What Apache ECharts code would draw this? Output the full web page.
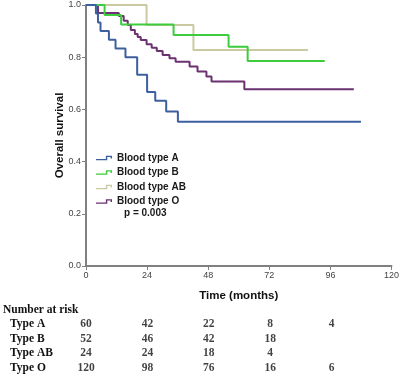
<!DOCTYPE html>
<html>
<head>
<meta charset="utf-8">
<script src="https://cdn.jsdelivr.net/npm/echarts@6/dist/echarts.min.js"></script>
<style>
html, body { margin: 0; padding: 0; background: #fff; }
#chart { width: 402px; height: 378px; }
</style>
</head>
<body>
<div id="chart"></div>
<script>
// survival curves (months, survival)
const timeA = [0, 3.9, 4.7, 5.7, 9, 11.6, 15.5, 20.1, 24, 27.2, 31.5, 36.1, 108]
const survA = [1, 0.967, 0.933, 0.9, 0.867, 0.833, 0.8, 0.733, 0.667, 0.633, 0.592, 0.553, 0.553]
const timeB = [0, 7.3, 13.8, 34.4, 56, 63.5, 93.8]
const survB = [1, 0.962, 0.925, 0.885, 0.84, 0.785, 0.785]
const timeAB = [0, 23.8, 42.2, 87.2]
const survAB = [1, 0.923, 0.828, 0.828]
const timeO = [0, 4.7, 12.9, 14.8, 16.4, 17.6, 19.2, 20.3, 21.5, 23.8, 25.8, 27.8, 30.1, 32.8, 35.2, 40.7, 43.8, 47.3, 49.3, 62.2, 105.2]
const survO = [1, 0.969, 0.958, 0.94, 0.923, 0.904, 0.889, 0.877, 0.866, 0.85, 0.836, 0.824, 0.808, 0.796, 0.783, 0.764, 0.745, 0.726, 0.707, 0.677, 0.677]

const groupNames = ['Blood type A', 'Blood type B', 'Blood type AB', 'Blood type O']
const groupColors = ['#3d5f9f', '#3ccc3c', '#cbc9a2', '#6b3170']

// number at risk table
const riskTimes = [0, 24, 48, 72, 96]
const rowLabels = ['Type A', 'Type B', 'Type AB', 'Type O']
const riskA = [60, 42, 22, 8, 4]
const riskB = [52, 46, 42, 18]
const riskAB = [24, 24, 18, 4]
const riskO = [120, 98, 76, 16, 6]

const curves = [[timeA, survA], [timeB, survB], [timeAB, survAB], [timeO, survO]]
const riskRows = [riskA, riskB, riskAB, riskO]

const stepIcon = 'path://M0,7 L21,7 L21,0 L34,0 L34,6 L31,6 L31,3 L24,3 L24,10 L0,10 Z'

const riskData = []
riskRows.forEach((row, i) => {
  row.forEach((v, j) => {
    riskData.push([riskTimes[j], rowLabels[i], v])
  })
})

const lineSeries = curves.map((c, i) => ({
  name: groupNames[i],
  type: 'line',
  step: 'end',
  symbol: 'none',
  color: groupColors[i],
  lineStyle: { width: 2, color: groupColors[i] },
  data: c[0].map((t, k) => [t, c[1][k]]),
  z: 10 - i
}))

const chart = echarts.init(document.getElementById('chart'))
chart.setOption({
  animation: false,
  backgroundColor: '#fff',
  textStyle: { fontFamily: 'Arial, "Liberation Sans", sans-serif' },
  grid: [
    { left: 86, right: 9, top: 5, bottom: 112 },
    { left: 86, right: 9, top: 317, height: 58 }
  ],
  legend: {
    data: groupNames.map(n => ({ name: n, icon: stepIcon })),
    orient: 'vertical',
    left: 91,
    top: 146,
    itemWidth: 16,
    itemHeight: 5,
    itemGap: 0.5,
    selectedMode: false,
    textStyle: { fontSize: 10, fontWeight: 'bold', color: '#1a1a1a', lineHeight: 14 }
  },
  xAxis: [{
    type: 'value',
    min: 0,
    max: 120,
    interval: 24,
    name: 'Time (months)',
    nameLocation: 'middle',
    nameGap: 24,
    nameMoveOverlap: false,
    nameTextStyle: { fontSize: 11.5, fontWeight: 'bold', color: '#111' },
    axisLine: { lineStyle: { color: '#808080', width: 2 } },
    axisTick: { length: 4, lineStyle: { color: '#808080' } },
    axisLabel: { fontSize: 9, color: '#444', margin: 5 },
    splitLine: { show: false }
  }, {
    type: 'value',
    gridIndex: 1,
    min: 0,
    max: 120,
    show: false
  }],
  yAxis: [{
    type: 'value',
    min: 0,
    max: 1,
    interval: 0.2,
    name: 'Overall survival',
    nameLocation: 'middle',
    nameGap: 20,
    nameMoveOverlap: false,
    nameTextStyle: { fontSize: 11.5, fontWeight: 'bold', color: '#111' },
    axisLine: { show: true, lineStyle: { color: '#808080', width: 2 } },
    axisTick: { show: true, length: 4, lineStyle: { color: '#808080' } },
    axisLabel: { fontSize: 9, color: '#444', margin: 5, formatter: v => v.toFixed(1) },
    splitLine: { show: false }
  }, {
    type: 'category',
    gridIndex: 1,
    inverse: true,
    data: rowLabels,
    axisLine: { show: false },
    axisTick: { show: false },
    axisLabel: {
      interval: 0,
      hideOverlap: false,
      align: 'left',
      margin: 76,
      fontFamily: '"Liberation Serif", "Times New Roman", serif',
      fontSize: 11.5,
      fontWeight: 'bold',
      color: '#111'
    }
  }],
  series: lineSeries.concat([{
    type: 'scatter',
    xAxisIndex: 1,
    yAxisIndex: 1,
    symbolSize: 1,
    silent: true,
    itemStyle: { color: 'transparent' },
    label: {
      show: true,
      position: 'inside',
      formatter: p => String(p.value[2]),
      fontFamily: '"Liberation Serif", "Times New Roman", serif',
      fontSize: 11.5,
      fontWeight: 'bold',
      color: '#111'
    },
    data: riskData
  }]),
  graphic: [{
    type: 'text',
    left: 3,
    top: 304,
    style: {
      text: 'Number at risk',
      font: 'bold 11.5px "Liberation Serif", "Times New Roman", serif',
      fill: '#111'
    }
  }, {
    type: 'text',
    left: 124,
    top: 208,
    style: {
      text: 'p = 0.003',
      font: 'bold 10px Arial, "Liberation Sans", sans-serif',
      fill: '#1a1a1a'
    }
  }]
})
</script>
</body>
</html>
